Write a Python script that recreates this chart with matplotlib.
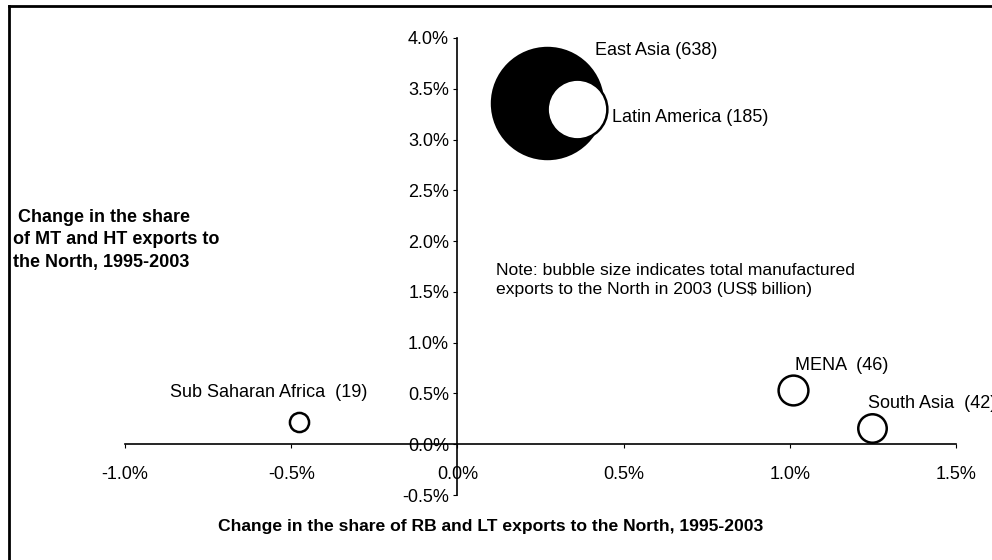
import matplotlib
matplotlib.use("Agg")
import matplotlib.pyplot as plt
from matplotlib.lines import Line2D
from matplotlib.ticker import FuncFormatter, MultipleLocator

plt.rcParams['font.family'] = ['Liberation Sans', 'DejaVu Sans']

regions = ["East Asia", "Latin America", "MENA", "South Asia", "Sub Saharan Africa"]
rb_lt_change = [0.27, 0.36, 1.01, 1.247, -0.477]      # x, %
mt_ht_change = [3.36, 3.30, 0.53, 0.16, 0.22]         # y, %
exports_2003 = [638, 185, 46, 42, 19]                 # US$ billion
label_text = ["East Asia (638)", "Latin America (185)", "MENA  (46)",
              "South Asia  (42)", "Sub Saharan Africa  (19)"]
label_pos = [(0.414, 3.88), (0.465, 3.22), (1.016, 0.78), (1.235, 0.40), (-0.865, 0.51)]

fig = plt.figure(figsize=(9.92, 5.6), dpi=100)
ax = fig.add_axes([125/992, 1-495/560, (956-125)/992, (495-38)/560])

faces = ["black", "white", "white", "white", "white"]
for x, y, v, fc in zip(rb_lt_change, mt_ht_change, exports_2003, faces):
    ax.scatter([x], [y], s=v*10, facecolor=fc, edgecolor="black",
               linewidth=1.8, zorder=3)

ax.set_xlim(-1.0, 1.5)
ax.set_ylim(-0.5, 4.0)
ax.xaxis.set_major_locator(MultipleLocator(0.5))
ax.yaxis.set_major_locator(MultipleLocator(0.5))
fmt = FuncFormatter(lambda v, p: f"{v:.1f}%")
ax.xaxis.set_major_formatter(fmt)
ax.yaxis.set_major_formatter(fmt)

ax.spines['left'].set_position(('data', 0))
ax.spines['bottom'].set_position(('data', 0))
ax.spines['top'].set_visible(False)
ax.spines['right'].set_visible(False)
for sp in ('left', 'bottom'):
    ax.spines[sp].set_linewidth(1.2)
ax.tick_params(axis='x', direction='out', length=3, pad=12.5, labelsize=13)
ax.tick_params(axis='y', direction='out', length=3, pad=3, labelsize=13)

for (lx, ly), t in zip(label_pos, label_text):
    ax.text(lx, ly, t, fontsize=13, ha='left', va='center', clip_on=False)

ax.text(0.115, 1.616, "Note: bubble size indicates total manufactured\nexports to the North in 2003 (US$ billion)",
        fontsize=12.6, ha='left', va='center', linespacing=1.3)

fig.text(13/992, 1-240/560, " Change in the share\nof MT and HT exports to\nthe North, 1995-2003",
         fontsize=13, fontweight='bold', ha='left', va='center', linespacing=1.4)
fig.text(491/992, 1-526/560, "Change in the share of RB and LT exports to the North, 1995-2003",
         fontsize=12.6, fontweight='bold', ha='center', va='center')

# frame
fig.add_artist(Line2D([9/992, 9/992], [0, 1-6/560], transform=fig.transFigure, color='black', lw=2))
fig.add_artist(Line2D([9/992, 1], [1-6/560, 1-6/560], transform=fig.transFigure, color='black', lw=2))

fig.savefig("out.png", dpi=100)
